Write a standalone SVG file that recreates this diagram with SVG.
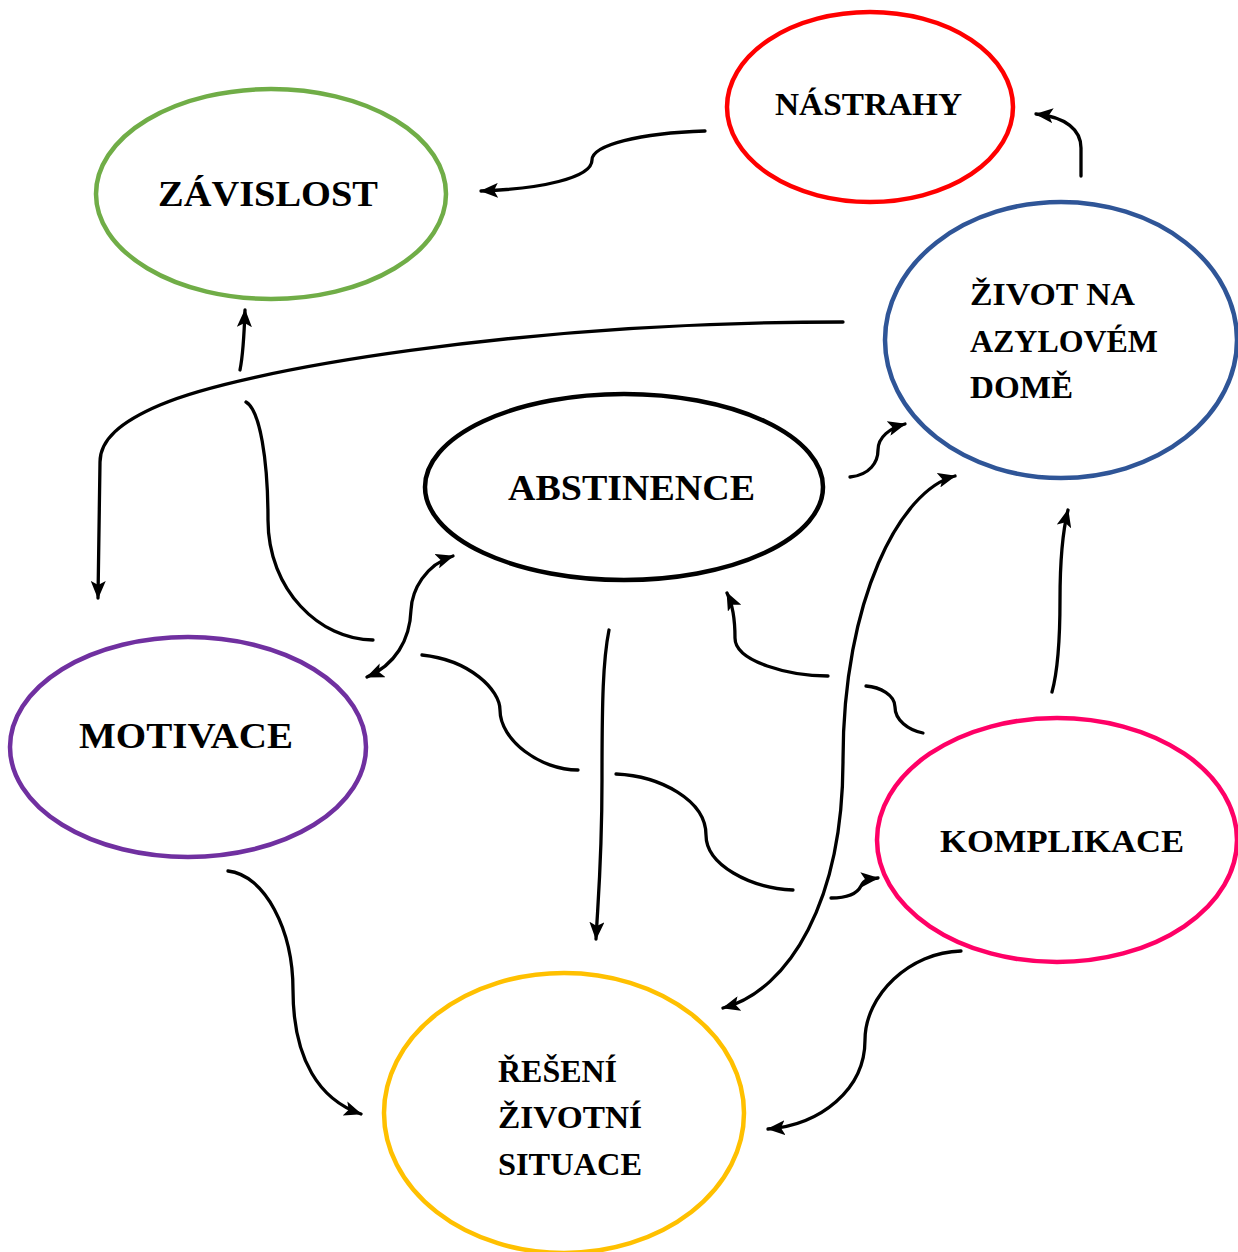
<svg xmlns="http://www.w3.org/2000/svg" width="1238" height="1252" viewBox="0 0 1238 1252">
<defs>
<style>
.node{fill:none;stroke-width:4.5}
.lbl{font-family:"Liberation Serif","Times New Roman",serif;font-weight:bold;fill:#000}
.big{font-size:36px}
.sm{font-size:32px}
.c{fill:none;stroke:#000;stroke-width:3.3;stroke-linecap:round}
.a{marker-end:url(#ah)}
.b{marker-start:url(#ah);marker-end:url(#ah)}
</style>
<marker id="ah" viewBox="0 0 18 15" refX="17" refY="7.5" markerWidth="18" markerHeight="15" markerUnits="userSpaceOnUse" orient="auto-start-reverse">
<path d="M0,0 L18,7.5 L0,15 L4,7.5 Z" fill="#000"/>
</marker>
</defs>
<rect width="1238" height="1252" fill="#fff"/>

<g id="connectors">
<path class="c a" d="M705,131 C640,133 592,145 592,160 C592,178 540,189 481,191"/>
<path class="c a" d="M1081,176 L1081,148 C1081,130 1066,117 1036,114"/>
<path class="c a" d="M843,322 C520,322 240,370 160,405 C120,422 100,440 100,462 L98,598"/>
<path class="c a" d="M240,370 C243,355 244,340 245,310"/>
<path class="c" d="M246,402 C260,410 268,460 268,520 C268,590 320,640 373,640"/>
<path class="c" d="M422,655 C470,660 500,690 500,710 C500,740 540,770 578,770"/>
<path class="c" d="M616,774 C660,776 706,800 706,835 C706,865 750,888 793,890"/>
<path class="c a" d="M831,898 C850,898 858,892 861,886 C864,880 868,879 878,878"/>
<path class="c b" d="M453,556 C425,565 412,590 411,610 C410,640 395,665 367,677"/>
<path class="c a" d="M609,630 C603,660 602,700 602,780 C602,860 598,900 596,939"/>
<path class="c a" d="M850,477 C870,475 878,462 878,450 C878,437 890,428 905,424"/>
<path class="c b" d="M955,476 C900,490 843,600 843,760 C843,900 790,990 723,1008"/>
<path class="c a" d="M828,676 C790,676 735,662 735,638 C735,620 733,605 727,593"/>
<path class="c" d="M866,686 C880,687 895,695 895,707 C895,720 908,730 923,733"/>
<path class="c a" d="M1052,692 C1058,670 1060,640 1060,600 C1060,560 1063,530 1068,510"/>
<path class="c a" d="M961,951 C910,952 865,995 865,1040 C865,1090 820,1125 768,1129"/>
<path class="c a" d="M228,871 C265,875 293,930 293,990 C293,1060 320,1100 361,1114"/>
</g>

<g id="nastrahy">
<ellipse class="node" cx="870" cy="107" rx="143" ry="95" stroke="#FF0000"/>
<text class="lbl sm" x="775" y="115" textLength="187" lengthAdjust="spacingAndGlyphs">NÁSTRAHY</text>
</g>
<g id="zavislost">
<ellipse class="node" cx="271" cy="194" rx="175" ry="105" stroke="#70AD47"/>
<text class="lbl big" x="158" y="206" textLength="220" lengthAdjust="spacingAndGlyphs">ZÁVISLOST</text>
</g>
<g id="zivot">
<ellipse class="node" cx="1061" cy="340" rx="176" ry="138" stroke="#2F5597"/>
<text class="lbl sm" x="970" y="305" textLength="165" lengthAdjust="spacingAndGlyphs">ŽIVOT NA</text>
<text class="lbl sm" x="970" y="352" textLength="188" lengthAdjust="spacingAndGlyphs">AZYLOVÉM</text>
<text class="lbl sm" x="970" y="398" textLength="103" lengthAdjust="spacingAndGlyphs">DOMĚ</text>
</g>
<g id="abstinence">
<ellipse class="node" cx="624" cy="487" rx="199" ry="93" stroke="#000"/>
<text class="lbl big" x="508" y="500" textLength="247" lengthAdjust="spacingAndGlyphs">ABSTINENCE</text>
</g>
<g id="motivace">
<ellipse class="node" cx="188" cy="747" rx="178" ry="110" stroke="#7030A0"/>
<text class="lbl big" x="79" y="748" textLength="214" lengthAdjust="spacingAndGlyphs">MOTIVACE</text>
</g>
<g id="komplikace">
<ellipse class="node" cx="1057" cy="840" rx="180" ry="122" stroke="#FF0066"/>
<text class="lbl sm" x="940" y="852" textLength="244" lengthAdjust="spacingAndGlyphs">KOMPLIKACE</text>
</g>
<g id="reseni">
<ellipse class="node" cx="564" cy="1113" rx="180" ry="140" stroke="#FFC000"/>
<text class="lbl sm" x="498" y="1082" textLength="119" lengthAdjust="spacingAndGlyphs">ŘEŠENÍ</text>
<text class="lbl sm" x="498" y="1128" textLength="144" lengthAdjust="spacingAndGlyphs">ŽIVOTNÍ</text>
<text class="lbl sm" x="498" y="1175" textLength="144" lengthAdjust="spacingAndGlyphs">SITUACE</text>
</g>
</svg>
